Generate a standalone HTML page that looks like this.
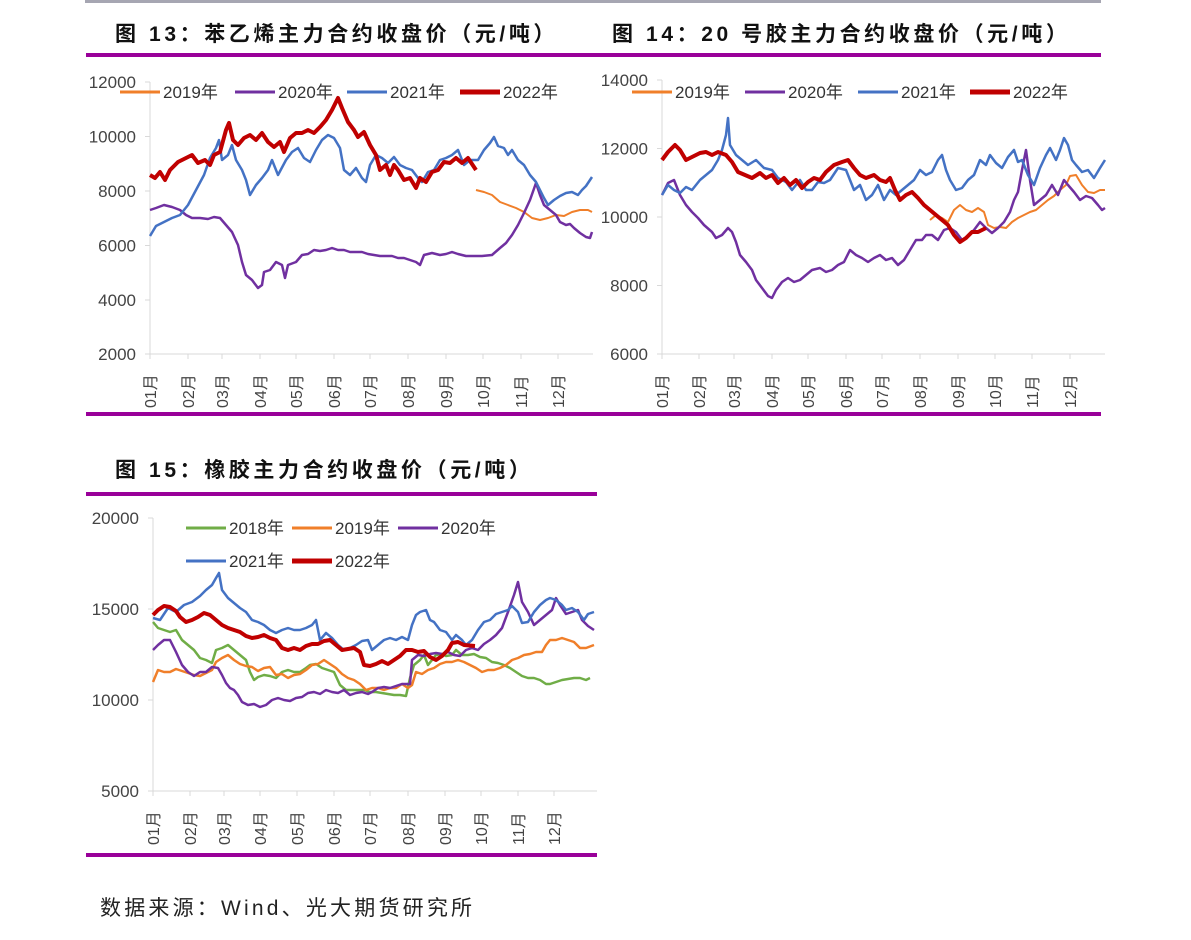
<!DOCTYPE html>
<html><head><meta charset="utf-8"><style>
body{margin:0;background:#fff;width:1191px;height:940px;overflow:hidden}
svg{display:block}
text{font-family:"Liberation Sans","Noto Sans CJK SC",sans-serif;fill:#333}
.t{font-size:21px;font-weight:bold;letter-spacing:3.6px;fill:#111}
.y{font-size:17px;text-anchor:end;fill:#444}
.m{font-size:16px;fill:#444}
.l{font-size:17px;fill:#333}
polyline{fill:none;stroke-linejoin:round}
</style></head><body>
<svg id="s" width="1191" height="940" xmlns="http://www.w3.org/2000/svg">
<rect x="85" y="0" width="1016" height="3" fill="#a6a6b2"/>
<text class="t" x="115" y="41">图 13：苯乙烯主力合约收盘价（元/吨）</text>
<text class="t" x="612" y="41">图 14：20 号胶主力合约收盘价（元/吨）</text>
<rect x="86" y="53" width="1015" height="4" fill="#990099"/>
<rect x="86" y="412" width="1015" height="4" fill="#990099"/>
<text class="t" x="115" y="477">图 15：橡胶主力合约收盘价（元/吨）</text>
<rect x="86" y="492" width="511" height="4" fill="#990099"/>
<rect x="86" y="853" width="511" height="4" fill="#990099"/>
<text x="100" y="915" style="font-size:21px;letter-spacing:3.2px;fill:#222">数据来源：Wind、光大期货研究所</text>
<g id="g"></g>
</svg>
<script>
var g=document.getElementById('g'),h='';
function ax(x0,x1,yb,yt,labels,ys,months){
 h+='<line x1="'+x0+'" y1="'+yt+'" x2="'+x0+'" y2="'+yb+'" stroke="#d9d9d9"/>';
 h+='<line x1="'+x0+'" y1="'+yb+'" x2="'+x1+'" y2="'+yb+'" stroke="#d9d9d9"/>';
 for(var i=0;i<labels.length;i++){h+='<line x1="'+(x0-5)+'" y1="'+ys[i]+'" x2="'+x0+'" y2="'+ys[i]+'" stroke="#d9d9d9"/><text class="y" x="'+(x0-14)+'" y="'+(ys[i]+6)+'">'+labels[i]+'</text>';}
 for(var j=0;j<12;j++){var x=months[j];h+='<line x1="'+x+'" y1="'+yb+'" x2="'+x+'" y2="'+(yb+5)+'" stroke="#d9d9d9"/>';
  var m=(j<9?'0':'')+(j+1)+'月';h+='<text class="m" transform="translate('+(x+6)+','+(yb+54)+') rotate(-90)">'+m+'</text>';}
}
function pl(p,c,w){h+='<polyline points="'+p+'" stroke="'+c+'" stroke-width="'+w+'"/>';}
function lg(x,y,c,w,t){h+='<line x1="'+x+'" y1="'+y+'" x2="'+(x+40)+'" y2="'+y+'" stroke="'+c+'" stroke-width="'+w+'"/><text class="l" x="'+(x+43)+'" y="'+(y+6)+'">'+t+'</text>';}
var O='#f07f2a',P='#7030a0',B='#4472c4',R='#c00000',G='#70ad47';
ax(150,593,354,82,['12000','10000','8000','6000','4000','2000'],[82,136.5,191,245.5,300,354],[150,188,222,260,296,334,370,408,446,483,521,558]);
pl("476,190 484,192 492,195 500,202 508,205 516,208 524,212 532,218 540,220 548,218 556,215 564,216 572,212 580,210 588,210 592,212",O,2);
pl("150,210 156,208 164,205 172,207 180,210 186,215 192,218 200,218 208,219 214,217 220,218 226,225 232,232 238,245 242,262 246,275 252,280 258,288 262,285 264,272 270,270 276,262 282,265 285,278 288,265 296,262 302,255 308,254 314,250 320,251 326,250 332,248 338,250 344,250 350,252 356,252 362,252 368,254 374,255 380,256 386,256 392,256 398,258 404,258 410,260 416,262 420,265 424,255 432,253 440,255 446,254 452,252 458,254 466,256 474,256 482,256 492,255 500,248 506,243 512,235 518,225 524,213 530,200 536,183 540,195 544,205 550,210 556,215 560,222 566,225 570,224 574,228 580,233 586,237 590,238 592,232",P,2.5);
pl("150,236 156,226 164,222 172,218 180,215 188,205 196,190 204,175 210,158 216,148 219,140 222,160 228,155 232,145 236,160 242,170 246,180 250,195 256,185 262,178 268,170 272,160 278,175 286,160 292,152 298,148 304,158 310,162 316,150 322,140 328,135 334,138 340,148 344,170 350,175 356,168 362,178 366,182 370,165 376,155 382,158 388,163 394,157 400,165 406,168 412,170 418,178 422,182 428,172 434,170 440,160 446,158 452,155 458,150 464,165 470,160 478,160 484,150 490,143 494,137 498,146 504,148 508,155 512,150 518,160 524,165 530,175 536,182 540,190 544,198 548,205 554,200 560,196 566,193 572,192 578,195 582,190 586,186 592,177",B,2.5);
pl("150,175 155,178 160,172 165,180 170,170 178,162 186,158 192,155 198,163 205,160 210,165 214,155 220,152 226,130 229,123 233,140 238,145 244,138 250,135 256,140 262,133 268,142 274,147 280,142 284,152 290,138 296,133 302,133 308,130 314,133 320,127 326,120 332,110 338,98 342,108 348,122 354,130 358,137 364,132 370,145 376,155 380,170 386,165 390,175 394,165 398,170 404,180 410,178 416,188 420,178 426,182 432,172 438,170 444,162 450,163 456,158 462,163 468,158 476,170",R,4);
lg(120,92,O,3,'2019年');lg(235,92,P,3,'2020年');lg(347,92,B,3,'2021年');lg(460,92,R,5,'2022年');
ax(662,1105,354,80,['14000','12000','10000','8000','6000'],[80,148.5,217,285.5,354],[662,699,734,772,808,846,882,920,958,995,1032,1070]);
pl("930,220 936,215 942,218 948,222 954,210 960,205 966,210 972,212 978,208 984,212 988,225 994,228 1000,227 1006,228 1012,222 1018,218 1024,215 1030,212 1036,210 1042,205 1048,200 1054,196 1060,190 1066,185 1070,176 1076,175 1082,185 1088,192 1094,193 1100,190 1105,190",O,2);
pl("662,195 668,183 674,180 680,195 686,205 692,212 698,218 704,225 712,232 716,238 722,235 728,228 732,232 736,242 740,255 746,262 752,270 756,280 762,288 768,296 772,298 776,290 782,282 788,278 794,282 800,280 806,275 812,270 820,268 826,272 832,270 838,265 844,262 850,250 856,255 862,258 868,262 874,258 880,255 886,260 892,258 898,265 904,260 910,250 916,240 922,240 926,235 932,235 938,240 944,230 950,228 956,232 962,240 968,236 974,230 980,222 986,228 992,233 998,228 1004,222 1010,212 1014,200 1018,192 1022,170 1026,150 1030,180 1034,205 1040,200 1046,195 1052,185 1058,195 1064,180 1068,185 1074,192 1080,200 1086,196 1092,198 1098,205 1102,210 1105,208",P,2.5);
pl("662,195 668,185 674,190 680,193 686,187 692,190 700,180 706,175 712,170 718,160 722,150 726,135 728,118 730,145 736,155 742,160 748,165 756,160 764,168 772,170 778,178 786,182 792,190 800,180 806,190 812,190 818,182 824,183 830,180 838,168 846,170 854,190 860,185 866,200 872,195 878,185 884,200 890,190 896,195 902,190 908,185 914,180 920,170 926,175 932,172 938,160 942,155 946,170 950,180 956,190 962,188 968,180 974,175 980,160 986,165 990,155 996,163 1002,168 1008,157 1014,150 1018,162 1022,160 1028,175 1034,185 1040,168 1046,155 1050,148 1056,160 1060,150 1064,138 1068,145 1072,160 1076,165 1082,172 1088,170 1094,178 1100,168 1105,160",B,2.5);
pl("662,160 668,152 675,145 680,150 686,160 692,157 700,153 706,152 712,155 718,152 726,155 732,162 738,172 745,175 752,178 760,173 766,178 772,175 778,183 784,178 790,185 796,180 802,188 808,182 814,178 820,180 826,172 834,165 842,162 848,160 854,168 860,175 866,178 874,175 880,180 886,182 890,178 895,190 900,200 906,195 912,192 918,198 924,205 930,210 936,215 942,220 948,225 954,235 960,242 966,238 972,232 978,232 986,228",R,4);
lg(632,92,O,3,'2019年');lg(745,92,P,3,'2020年');lg(858,92,B,3,'2021年');lg(970,92,R,5,'2022年');
ax(153,597,791,518,['20000','15000','10000','5000'],[518,609,700,791],[153,190,224,260,297,334,370,408,445,481,518,554]);
pl("153,622 158,628 164,630 170,632 176,630 182,640 188,645 194,650 200,658 206,660 212,663 216,650 222,648 228,645 234,650 240,655 246,660 250,672 254,680 258,677 264,675 270,676 276,678 282,672 288,670 294,672 300,672 306,668 310,665 316,664 322,668 328,670 334,672 340,685 346,690 352,690 358,690 364,690 370,692 376,692 382,693 388,694 394,695 400,695 406,696 410,678 414,665 420,660 424,655 428,665 432,660 436,655 442,654 446,656 452,655 456,650 462,655 468,655 474,654 480,657 486,658 492,662 498,663 504,665 510,668 516,672 522,676 528,678 534,678 540,680 546,684 550,684 556,682 562,680 568,679 574,678 580,678 586,680 590,678",G,2.5);
pl("153,682 158,670 164,672 170,672 176,669 182,671 188,673 194,675 200,676 206,673 212,670 216,662 222,658 228,655 234,660 240,664 246,666 252,667 258,671 264,668 270,667 276,675 282,674 288,678 294,675 300,674 306,670 312,665 318,664 324,660 330,664 336,668 342,674 348,678 354,680 360,684 366,690 372,688 378,688 384,690 390,688 396,688 402,684 408,688 412,685 416,672 422,674 428,670 434,668 440,664 446,662 452,662 458,660 464,662 470,665 476,668 482,672 488,670 494,670 500,668 506,665 512,660 518,658 524,655 530,654 536,652 542,652 546,645 550,640 556,640 562,638 568,640 574,642 580,648 586,648 594,645",O,2.5);
pl("153,650 158,645 164,640 170,640 176,652 182,665 188,672 194,676 200,672 206,672 212,667 218,668 222,675 226,683 230,688 234,690 238,695 242,702 248,705 254,704 260,707 266,705 272,700 278,698 284,700 290,701 296,698 302,697 308,693 314,692 320,694 326,690 332,692 338,693 344,690 350,695 356,693 362,692 368,694 372,692 378,688 384,687 390,688 396,686 402,684 410,684 412,660 418,655 424,656 430,654 436,653 442,654 448,652 454,655 460,656 466,650 472,648 478,650 484,644 490,640 496,635 502,628 508,612 514,595 518,582 522,602 528,612 534,625 540,620 546,615 552,610 556,598 560,605 566,614 572,612 578,610 582,620 588,626 594,630",P,2.5);
pl("153,618 160,620 168,608 176,612 184,605 192,602 200,596 206,590 212,585 216,578 219,573 222,590 228,598 234,603 240,608 246,612 252,620 258,622 264,625 270,630 276,633 282,630 288,628 294,630 300,630 306,628 312,625 316,620 320,640 326,633 332,638 338,645 344,650 350,648 356,645 362,641 368,640 372,650 378,645 384,640 390,638 396,640 402,637 408,640 412,625 416,615 420,612 426,610 430,620 434,622 440,630 446,632 452,640 456,635 462,640 466,645 472,640 478,630 484,622 490,620 496,614 502,612 508,610 512,606 518,612 522,623 528,622 534,612 540,605 546,600 550,598 556,600 562,605 566,610 572,608 578,612 584,620 588,614 594,612",B,2.5);
pl("153,615 158,610 164,606 170,607 176,611 180,617 186,622 192,620 198,617 204,613 210,615 216,620 222,625 228,628 234,630 240,632 246,636 252,638 258,637 264,635 270,638 276,640 282,648 288,650 294,648 300,650 306,646 312,644 318,644 324,641 330,640 336,645 342,650 348,649 354,648 360,652 364,665 370,666 376,664 382,661 388,664 394,660 400,656 406,650 412,650 418,652 424,651 430,657 436,660 442,656 448,650 452,643 458,642 464,645 475,646",R,4);
lg(186,528,G,3,'2018年');lg(292,528,O,3,'2019年');lg(398,528,P,3,'2020年');lg(186,561,B,3,'2021年');lg(292,561,R,5,'2022年');
g.innerHTML=h;
</script>
</body></html>
